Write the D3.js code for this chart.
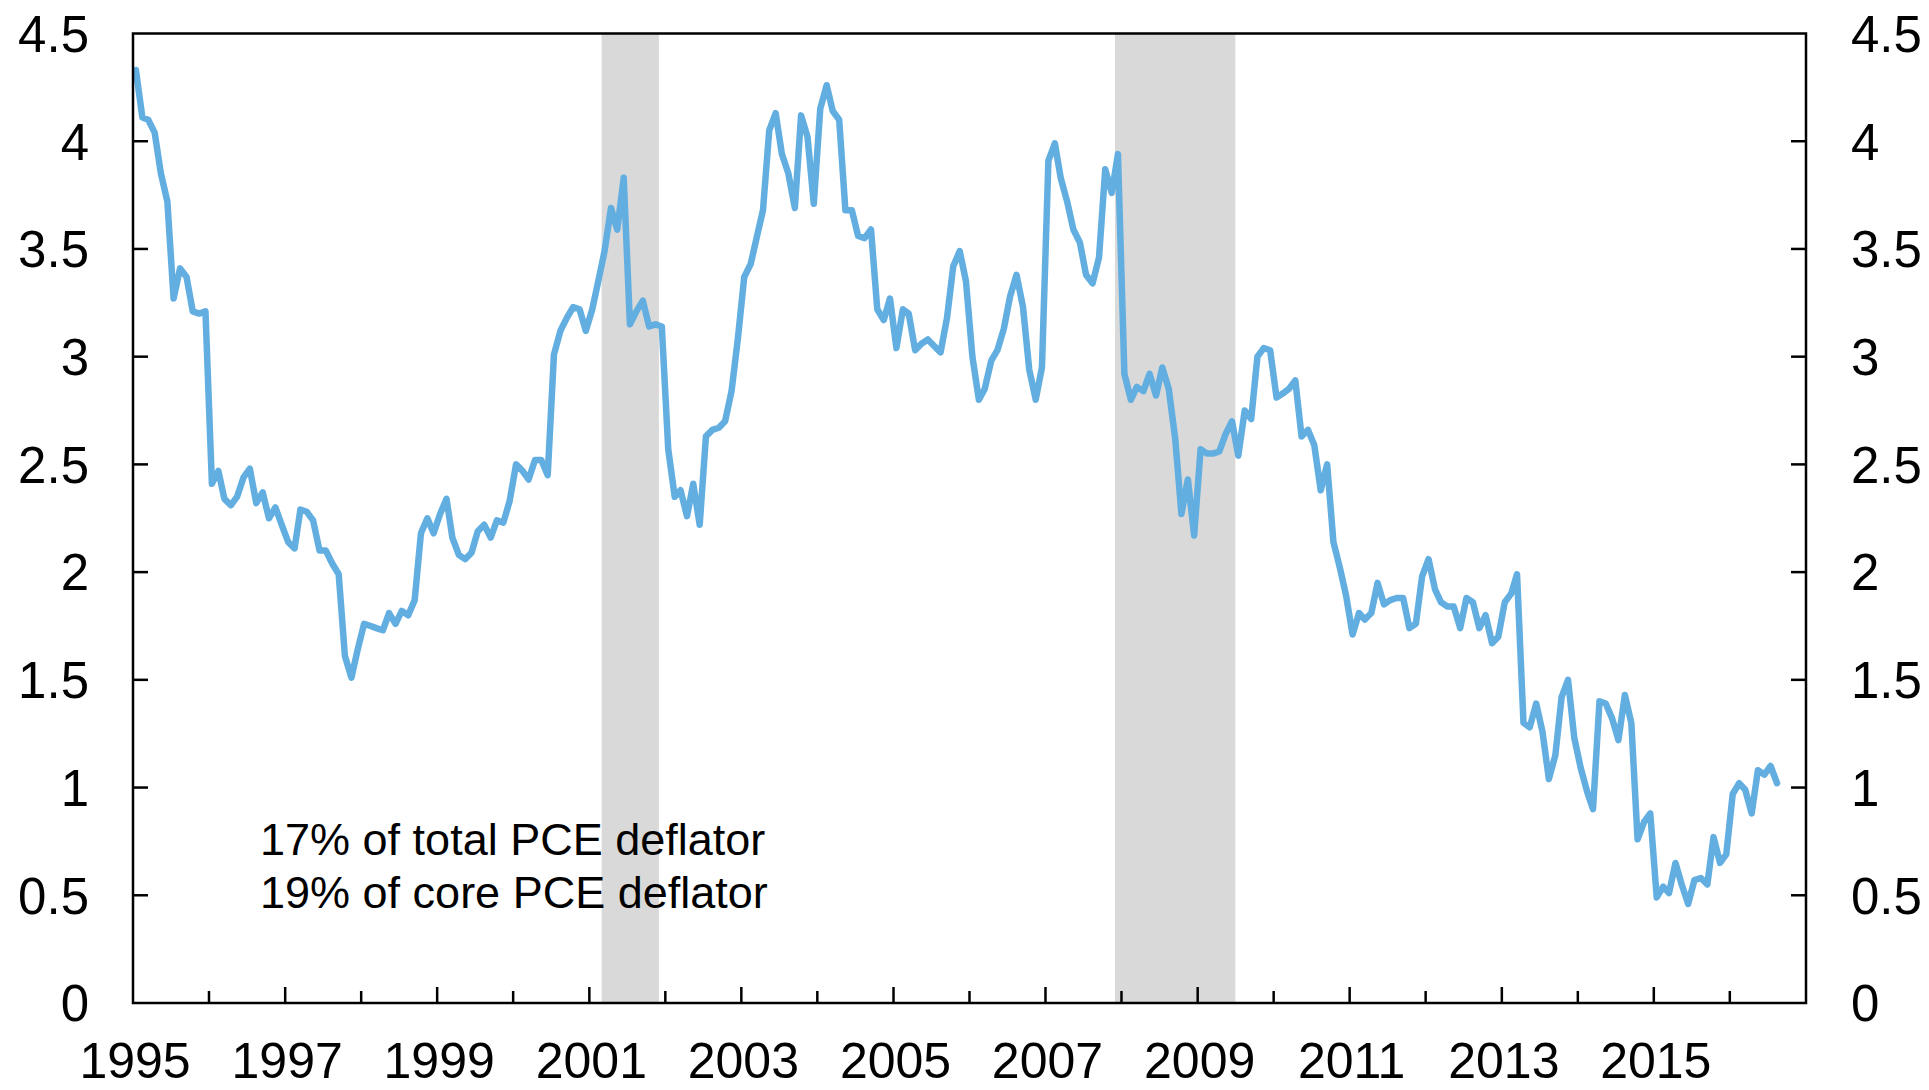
<!DOCTYPE html>
<html>
<head>
<meta charset="utf-8">
<script src="https://cdn.jsdelivr.net/npm/d3@7"></script>
<style>
  body { margin: 0; background: #fff; }
  svg { display: block; }
</style>
</head>
<body>
<div id="chart"></div>
<script>
// monthly values starting Jan 1995
const startYear = 1995;
const values = [
  // 1995
  4.33, 4.11, 4.10, 4.04, 3.85, 3.72, 3.27, 3.41, 3.37, 3.21, 3.20, 3.21,
  // 1996
  2.41, 2.47, 2.34, 2.31, 2.35, 2.44, 2.48, 2.32, 2.37, 2.25, 2.30, 2.22,
  // 1997
  2.14, 2.11, 2.29, 2.28, 2.24, 2.10, 2.10, 2.04, 1.99, 1.61, 1.51, 1.64,
  // 1998
  1.76, 1.75, 1.74, 1.73, 1.81, 1.76, 1.82, 1.80, 1.87, 2.18, 2.25, 2.18,
  // 1999
  2.27, 2.34, 2.16, 2.08, 2.06, 2.09, 2.19, 2.22, 2.16, 2.24, 2.23, 2.33,
  // 2000
  2.50, 2.47, 2.43, 2.52, 2.52, 2.45, 3.01, 3.12, 3.18, 3.23, 3.22, 3.12,
  // 2001
  3.22, 3.36, 3.49, 3.69, 3.59, 3.83, 3.15, 3.21, 3.26, 3.14, 3.15, 3.14,
  // 2002
  2.57, 2.35, 2.38, 2.26, 2.41, 2.22, 2.63, 2.66, 2.67, 2.70, 2.84, 3.08,
  // 2003
  3.37, 3.43, 3.55, 3.68, 4.05, 4.13, 3.94, 3.85, 3.69, 4.12, 4.02, 3.71,
  // 2004
  4.15, 4.26, 4.14, 4.10, 3.68, 3.68, 3.56, 3.55, 3.59, 3.22, 3.17, 3.27,
  // 2005
  3.04, 3.22, 3.20, 3.03, 3.06, 3.08, 3.05, 3.02, 3.18, 3.42, 3.49, 3.35,
  // 2006
  3.00, 2.80, 2.85, 2.98, 3.03, 3.13, 3.28, 3.38, 3.23, 2.94, 2.80, 2.95,
  // 2007
  3.91, 3.99, 3.83, 3.72, 3.59, 3.53, 3.38, 3.34, 3.46, 3.87, 3.76, 3.94,
  // 2008
  2.92, 2.80, 2.86, 2.84, 2.92, 2.82, 2.95, 2.85, 2.62, 2.27, 2.43, 2.17,
  // 2009
  2.57, 2.55, 2.55, 2.56, 2.64, 2.70, 2.54, 2.75, 2.71, 3.00, 3.04, 3.03,
  // 2010
  2.81, 2.83, 2.85, 2.89, 2.63, 2.66, 2.59, 2.38, 2.50, 2.14, 2.02, 1.89,
  // 2011
  1.71, 1.81, 1.78, 1.81, 1.95, 1.85, 1.87, 1.88, 1.88, 1.74, 1.76, 1.98,
  // 2012
  2.06, 1.92, 1.86, 1.84, 1.84, 1.74, 1.88, 1.86, 1.74, 1.80, 1.67, 1.70,
  // 2013
  1.86, 1.90, 1.99, 1.30, 1.28, 1.39, 1.26, 1.04, 1.15, 1.42, 1.50, 1.23,
  // 2014
  1.09, 0.98, 0.90, 1.40, 1.39, 1.32, 1.22, 1.43, 1.30, 0.76, 0.84, 0.88,
  // 2015
  0.49, 0.54, 0.51, 0.65, 0.55, 0.46, 0.57, 0.58, 0.55, 0.77, 0.65, 0.69,
  // 2016
  0.97, 1.02, 0.99, 0.88, 1.08, 1.06, 1.10, 1.02
];

// recession periods: [year, month index] start and end (exclusive)
const recessionStarts = [[2001, 2], [2007, 11]];
const recessionEnds = [[2001, 11], [2009, 6]];

const yTickValues = [0, 0.5, 1, 1.5, 2, 2.5, 3, 3.5, 4, 4.5];
const xTickYears = d3.range(1995, 2017);
const xLabelYears = [1995, 1997, 1999, 2001, 2003, 2005, 2007, 2009, 2011, 2013, 2015];
const noteLines = ["17% of total PCE deflator", "19% of core PCE deflator"];

function drawChart() {
  const width = 1929;
  const height = 1090;
  const left = 133, right = 1806, top = 33.5, bottom = 1003;
  const font = "'Liberation Sans', Arial, sans-serif";

  const svg = d3.select("#chart").append("svg")
    .attr("width", width)
    .attr("height", height);

  const x = d3.scaleTime()
    .domain([new Date(1995, 0, 1), new Date(2017, 0, 1)])
    .range([left, right]);

  const y = d3.scaleLinear()
    .domain([0, 4.5])
    .range([bottom, top]);

  // recession shading
  recessionStarts.forEach((s, k) => {
    const e = recessionEnds[k];
    const x0 = x(new Date(s[0], s[1], 1));
    const x1 = x(new Date(e[0], e[1], 1));
    svg.append("rect")
      .attr("x", x0)
      .attr("y", top)
      .attr("width", x1 - x0)
      .attr("height", bottom - top)
      .style("fill", "#d9d9d9");
  });

  // series
  const data = values.map((v, i) => ({ date: new Date(startYear, i, 15), value: v }));

  svg.append("path")
    .datum(data)
    .attr("d", d3.line().x(d => x(d.date)).y(d => y(d.value)))
    .style("fill", "none")
    .style("stroke", "#62aee0")
    .style("stroke-width", 6.5)
    .style("stroke-linejoin", "round")
    .style("stroke-linecap", "round");

  // frame
  svg.append("rect")
    .attr("x", left)
    .attr("y", top)
    .attr("width", right - left)
    .attr("height", bottom - top)
    .style("fill", "none")
    .style("stroke", "#000")
    .style("stroke-width", 2.5);

  // y ticks on both sides, pointing inward
  const innerTicks = yTickValues.filter(v => v > 0 && v < 4.5);
  innerTicks.forEach(v => {
    svg.append("line")
      .attr("x1", left).attr("x2", left + 15)
      .attr("y1", y(v)).attr("y2", y(v))
      .style("stroke", "#000").style("stroke-width", 2.5);
    svg.append("line")
      .attr("x1", right - 15).attr("x2", right)
      .attr("y1", y(v)).attr("y2", y(v))
      .style("stroke", "#000").style("stroke-width", 2.5);
  });

  // y labels
  yTickValues.forEach(v => {
    svg.append("text")
      .attr("x", left - 44)
      .attr("y", y(v))
      .attr("dy", "0.36em")
      .style("text-anchor", "end")
      .style("font-family", font)
      .style("font-size", "51px")
      .text(String(v));

    svg.append("text")
      .attr("x", right + 45)
      .attr("y", y(v))
      .attr("dy", "0.36em")
      .style("text-anchor", "start")
      .style("font-family", font)
      .style("font-size", "51px")
      .text(String(v));
  });

  // x ticks, longer on labelled years
  xTickYears.filter(yr => yr > 1995).forEach(yr => {
    const len = yr % 2 === 1 ? 16 : 12;
    const xp = x(new Date(yr, 0, 1));
    svg.append("line")
      .attr("x1", xp).attr("x2", xp)
      .attr("y1", bottom).attr("y2", bottom - len)
      .style("stroke", "#000").style("stroke-width", 2.5);
  });

  // x labels
  xLabelYears.forEach(yr => {
    svg.append("text")
      .attr("x", x(new Date(yr, 0, 1)) + 2)
      .attr("y", 1078)
      .style("text-anchor", "middle")
      .style("font-family", font)
      .style("font-size", "50px")
      .text(yr);
  });

  // note
  noteLines.forEach((line, i) => {
    svg.append("text")
      .attr("x", 260)
      .attr("y", 855 + i * 53)
      .style("font-family", font)
      .style("font-size", "45px")
      .text(line);
  });
}

drawChart();
</script>
</body>
</html>
